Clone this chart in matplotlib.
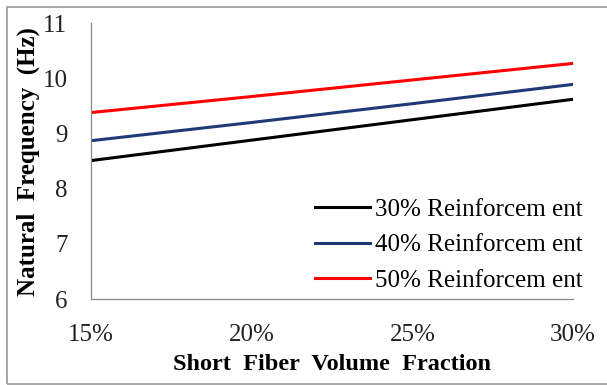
import matplotlib.pyplot as plt
from matplotlib.patches import Rectangle

# dados
fracao = [0.15, 0.20, 0.25, 0.30]
reforco_30 = [8.51, 8.88, 9.25, 9.62]
reforco_40 = [8.87, 9.20, 9.54, 9.89]
reforco_50 = [9.38, 9.67, 9.97, 10.27]
legendas = ["30% Reinforcem ent", "40% Reinforcem ent", "50% Reinforcem ent"]
cores = ["#000000", "#1f3a78", "#ff0000"]
xticks = [0.15, 0.20, 0.25, 0.30]
xtick_labels = ["15%", "20%", "25%", "30%"]
yticks = [6, 7, 8, 9, 10, 11]

plt.rcParams['font.family'] = ['Liberation Serif', 'DejaVu Serif']

fig = plt.figure(figsize=(6.07, 3.85), dpi=100)
ax = fig.add_axes([0.150, 0.223, 0.794, 0.717])

for serie, nome, cor in zip([reforco_30, reforco_40, reforco_50], legendas, cores):
    ax.plot(fracao, serie, color=cor, linewidth=2.2, label=nome)

ax.set_xlim(0.15, 0.30)
ax.set_ylim(6, 11)
ax.set_xticks(xticks)
ax.set_xticklabels(xtick_labels)
ax.set_yticks(yticks)
ax.tick_params(length=0, labelsize=18, colors="#222222")
ax.tick_params(axis='x', pad=18)
ax.tick_params(axis='y', pad=17)

for lado in ['top', 'right']:
    ax.spines[lado].set_visible(False)
for lado in ['left', 'bottom']:
    ax.spines[lado].set_color("#888888")
    ax.spines[lado].set_linewidth(0.9)

ax.set_xlabel("Short  Fiber  Volume  Fraction", fontsize=17.5, fontweight='bold', labelpad=6)
ax.set_ylabel("Natural  Frequency  (Hz)", fontsize=18, fontweight='bold', labelpad=2)

ax.legend(loc='lower right', bbox_to_anchor=(1.056, -0.036), frameon=False, fontsize=18,
          handlelength=2.2, handletextpad=0.2, labelspacing=0.51, borderpad=0.2)

# moldura cinza (lado direito fica fora da imagem)
fig.patches.append(Rectangle((0.0115, 0.003), 1.0, 0.980, transform=fig.transFigure,
                             fill=False, edgecolor="#999999", linewidth=1.2))

fig.savefig("out.png", dpi=100)
